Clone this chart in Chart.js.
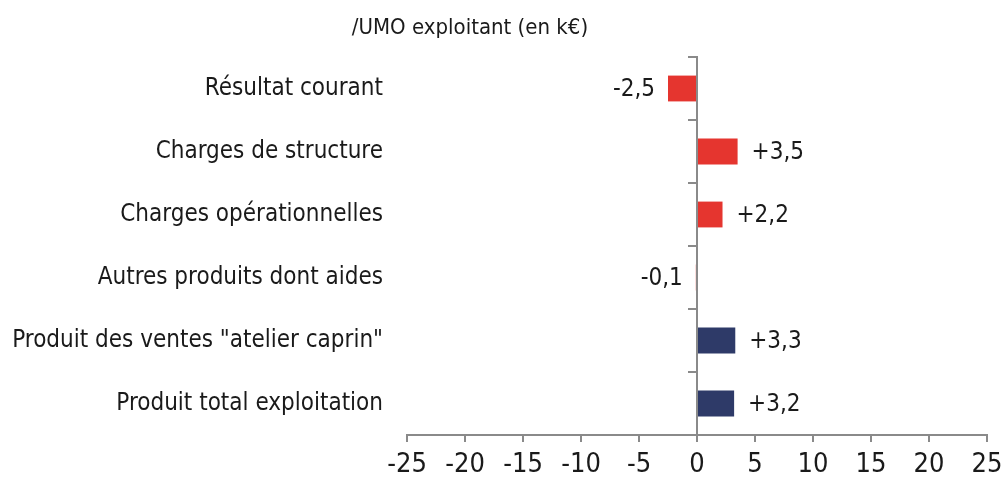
<!DOCTYPE html>
<html>
<head>
<meta charset="utf-8">
<script src="https://cdn.jsdelivr.net/npm/chart.js@4/dist/chart.umd.min.js"></script>
<style>
  html, body { margin: 0; padding: 0; background: #fff; }
  #wrap { width: 1002px; height: 477px; position: relative; }
</style>
</head>
<body>
<div id="wrap"><canvas id="chart"></canvas></div>
<script>
// data (k€ per UMO exploitant)
const categories = [
  'Résultat courant',
  'Charges de structure',
  'Charges opérationnelles',
  'Autres produits dont aides',
  'Produit des ventes "atelier caprin"',
  'Produit total exploitation'
];
const values = [-2.5, 3.5, 2.2, -0.1, 3.3, 3.2];
const barColors = ['#e5352f', '#e5352f', '#e5352f', '#e5352f', '#2e3a68', '#2e3a68'];
const xTicks = [-25, -20, -15, -10, -5, 0, 5, 10, 15, 20, 25];
const titleText = '/UMO exploitant (en k€)';

const FONT = '"DejaVu Sans Condensed", "Liberation Sans", Arial, sans-serif';
const AXIS_GREY = '#8a8a8a';

function fmt(v) {
  const s = Math.abs(v).toFixed(1).replace('.', ',');
  return (v < 0 ? '-' : '+') + s;
}

// value labels next to bar ends
const valueLabels = {
  id: 'valueLabels',
  afterDatasetsDraw(chart) {
    const ctx = chart.ctx;
    const meta = chart.getDatasetMeta(0);
    const xs = chart.scales.x;
    const zero = xs.getPixelForValue(0);
    ctx.save();
    ctx.font = '24px ' + FONT;
    ctx.fillStyle = '#1a1a1a';
    ctx.textBaseline = 'middle';
    meta.data.forEach((bar, i) => {
      const v = values[i];
      if (v < 0) {
        ctx.textAlign = 'right';
        ctx.fillText(fmt(v), Math.min(bar.x, zero) - 13, bar.y + 1);
      } else {
        ctx.textAlign = 'left';
        ctx.fillText(fmt(v), bar.x + 14, bar.y + 1);
      }
    });
    ctx.restore();
  }
};

// title above the plot
const topTitle = {
  id: 'topTitle',
  afterDraw(chart) {
    const ctx = chart.ctx;
    ctx.save();
    ctx.font = '22px ' + FONT;
    ctx.fillStyle = '#1a1a1a';
    ctx.textAlign = 'center';
    ctx.textBaseline = 'middle';
    ctx.fillText(titleText, 470, 28);
    ctx.restore();
  }
};

new Chart(document.getElementById('chart'), {
  type: 'bar',
  data: {
    labels: categories,
    datasets: [{
      data: values,
      backgroundColor: barColors,
      borderWidth: 0,
      categoryPercentage: 1,
      barPercentage: 0.41
    }]
  },
  options: {
    indexAxis: 'y',
    responsive: true,
    maintainAspectRatio: false,
    animation: false,
    layout: { padding: { top: 57, right: 15, bottom: 0, left: 0 } },
    plugins: {
      legend: { display: false },
      tooltip: { enabled: false }
    },
    scales: {
      x: {
        min: -25,
        max: 25,
        afterBuildTicks(scale) {
          scale.ticks = xTicks.map(v => ({ value: v }));
        },
        afterFit(scale) {
          scale.height = 42;
          scale.paddingLeft = 0;
          scale.paddingRight = 0;
        },
        border: { display: true, color: AXIS_GREY, width: 2 },
        grid: {
          drawOnChartArea: false,
          drawTicks: true,
          tickLength: 7,
          color: AXIS_GREY,
          lineWidth: 2
        },
        ticks: {
          color: '#1a1a1a',
          font: { family: FONT, size: 27 },
          padding: 7,
          maxRotation: 0,
          autoSkip: false
        }
      },
      y: {
        position: 'left',
        afterFit(scale) { scale.width = 407; },
        border: { display: false },
        grid: { display: false, drawTicks: false },
        ticks: {
          color: '#1a1a1a',
          font: { family: FONT, size: 24 },
          padding: 24,
          autoSkip: false
        }
      },
      y2: {
        type: 'category',
        axis: 'y',
        position: { x: 0 },
        offset: true,
        border: { display: true, color: AXIS_GREY, width: 2 },
        grid: {
          offset: true,
          drawOnChartArea: false,
          tickLength: 8,
          color: AXIS_GREY,
          lineWidth: 2
        },
        ticks: { display: false }
      }
    }
  },
  plugins: [valueLabels, topTitle]
});
</script>
</body>
</html>
